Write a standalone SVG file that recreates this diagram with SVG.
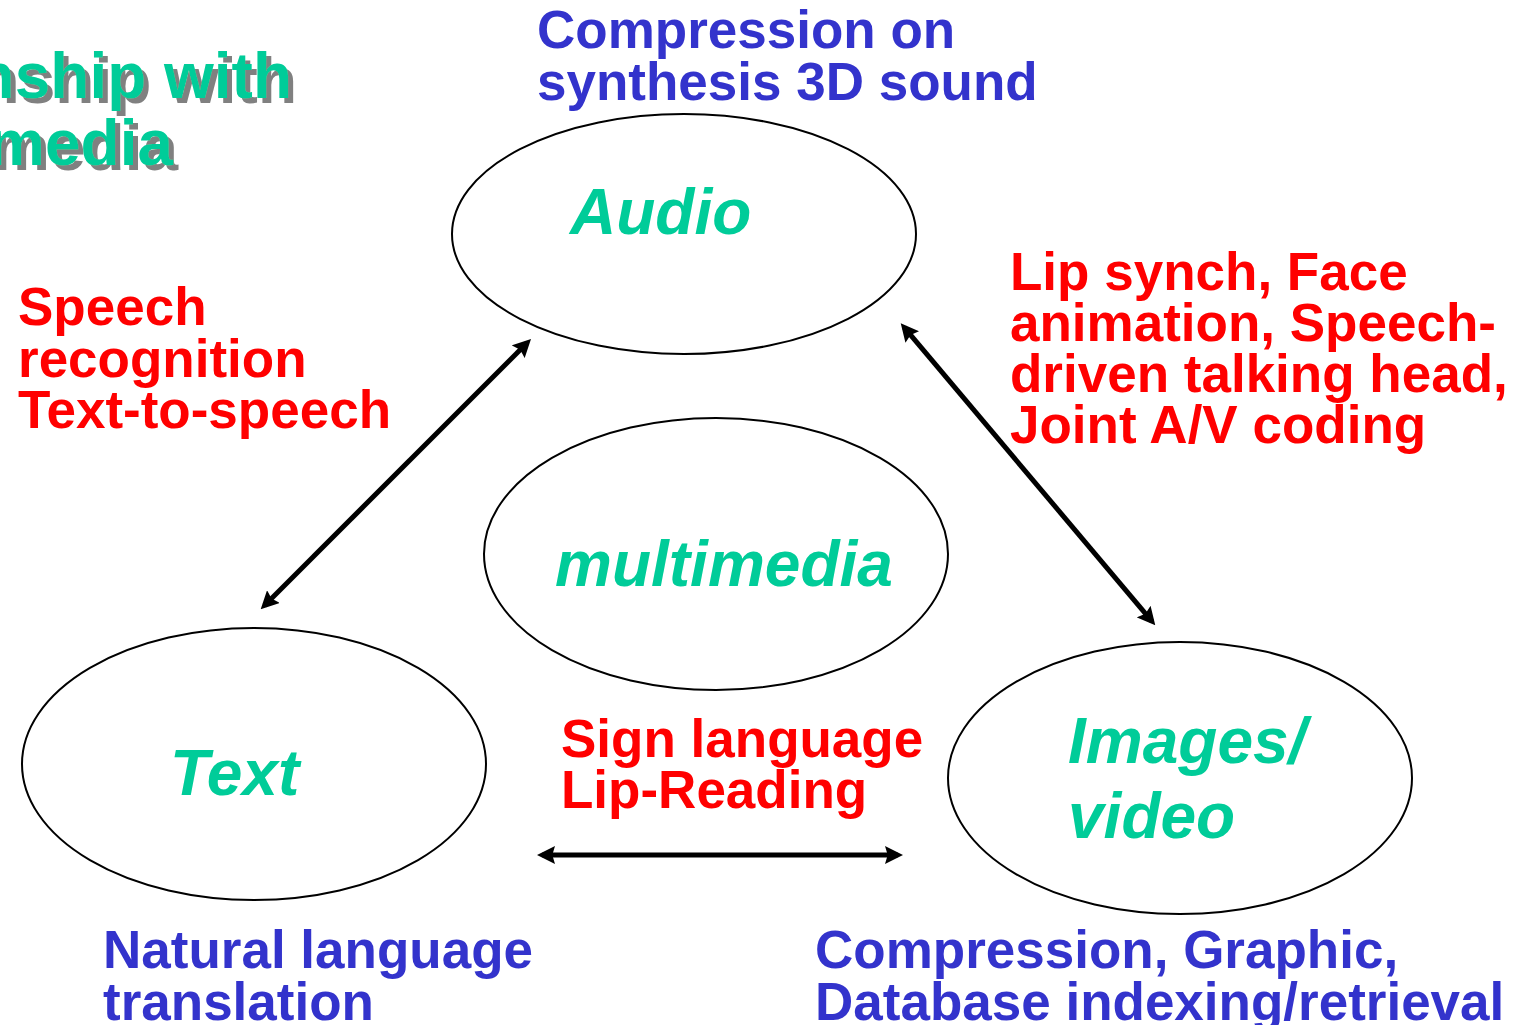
<svg xmlns="http://www.w3.org/2000/svg" width="1522" height="1025" viewBox="0 0 1522 1025">
<defs>
<marker id="ah" viewBox="0 0 10 10" refX="7" refY="5" markerWidth="3.6" markerHeight="3.6" orient="auto-start-reverse" markerUnits="strokeWidth">
<path d="M0,0 L10,5 L0,10 L1.5,5 Z" fill="#000"/>
</marker>
<filter id="shadow" x="-5%" y="-20%" width="115%" height="150%">
<feFlood flood-color="#808080" result="f"/>
<feComposite in="f" in2="SourceAlpha" operator="in" result="s"/>
<feOffset in="s" dx="5" dy="5" result="o"/>
<feMerge><feMergeNode in="o"/><feMergeNode in="SourceGraphic"/></feMerge>
</filter>
</defs>
<style>
.node{fill:#fff;stroke:#000;stroke-width:2}
.nl{font-family:"Liberation Sans",Arial,sans-serif;font-weight:bold;font-style:italic;fill:#00CC99;font-size:64px}
.blue{font-family:"Liberation Sans",Arial,sans-serif;font-weight:bold;fill:#3333CC;font-size:53px}
.red{font-family:"Liberation Sans",Arial,sans-serif;font-weight:bold;fill:#FF0000;font-size:53px}
.title{font-family:"Liberation Sans",Arial,sans-serif;font-weight:bold;font-size:64px;fill:#00CC99}
.conn{stroke:#000;stroke-width:5;fill:none;marker-start:url(#ah);marker-end:url(#ah)}
</style>
<rect width="1522" height="1025" fill="#fff"/>
<g id="title" filter="url(#shadow)">
<text class="title" x="292" y="98" text-anchor="end">nship with</text>
<text class="title" x="173" y="165" text-anchor="end">media</text>
</g>
<g id="node-audio">
<ellipse class="node" cx="684" cy="234" rx="232" ry="120"/>
<text class="nl" x="570" y="234">Audio</text>
</g>
<g id="node-multimedia">
<ellipse class="node" cx="716" cy="554" rx="232" ry="136"/>
<text class="nl" x="555" y="586">multimedia</text>
</g>
<g id="node-text">
<ellipse class="node" cx="254" cy="764" rx="232" ry="136"/>
<text class="nl" x="170" y="795">Text</text>
</g>
<g id="node-images">
<ellipse class="node" cx="1180" cy="778" rx="232" ry="136"/>
<text class="nl" x="1068" y="763">Images/</text>
<text class="nl" x="1068" y="838">video</text>
</g>
<g id="connectors">
<line class="conn" x1="527.2" y1="342.8" x2="264.5" y2="605.5"/>
<line class="conn" x1="904.2" y1="327.4" x2="1151.8" y2="621.2"/>
<line class="conn" x1="542.4" y1="855" x2="897.6" y2="855"/>
</g>
<g id="labels">
<text class="blue" x="537" y="48">Compression on</text>
<text class="blue" x="537" y="100">synthesis 3D sound</text>
<text class="red" x="18" y="325">Speech</text>
<text class="red" x="18" y="377">recognition</text>
<text class="red" x="18" y="428">Text-to-speech</text>
<text class="red" x="1010" y="290">Lip synch, Face</text>
<text class="red" x="1010" y="341">animation, Speech-</text>
<text class="red" x="1010" y="392">driven talking head,</text>
<text class="red" x="1010" y="443">Joint A/V coding</text>
<text class="red" x="561" y="757">Sign language</text>
<text class="red" x="561" y="808">Lip-Reading</text>
<text class="blue" x="103" y="968">Natural language</text>
<text class="blue" x="103" y="1020">translation</text>
<text class="blue" x="815" y="968">Compression, Graphic,</text>
<text class="blue" x="815" y="1020">Database indexing/retrieval</text>
</g>
</svg>
